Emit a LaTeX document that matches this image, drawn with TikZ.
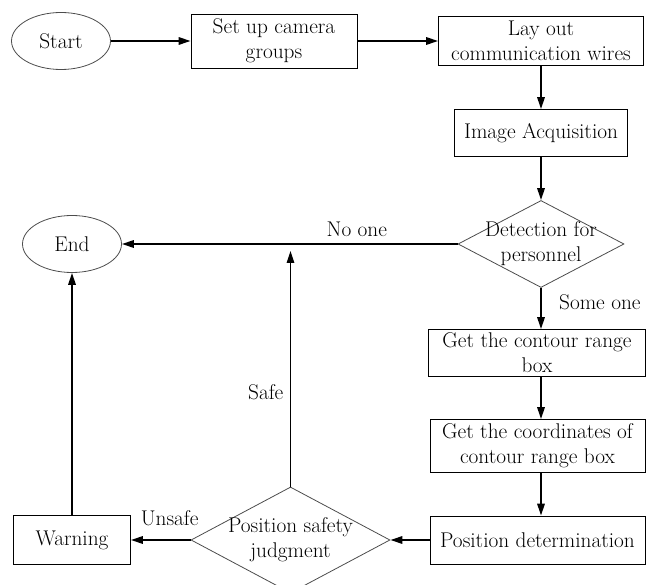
\documentclass[tikz,border=0pt]{standalone}
\usetikzlibrary{positioning, arrows.meta, shapes.geometric}

\begin{document}
\begin{tikzpicture}[
      x=1pt, y=-1pt,
      font=\fontsize{21.3}{25}\selectfont,
      box/.style={draw, rectangle, align=center, inner sep=0pt, line width=0.8pt},
      term/.style={draw=black!70, ellipse, inner sep=0pt, line width=0.8pt, minimum width=99pt, minimum height=57pt},
      decision/.style={draw=black!70, diamond, inner sep=0pt, line width=0.8pt},
      arr/.style={-{Triangle[length=12pt, width=7.5pt]}, line width=1.6pt}
    ]
    \useasboundingbox (0,0) rectangle (646,585);

    \node[term] (start) at (61,41) {Start};
    \node[box, minimum width=166pt, minimum height=54pt] (setup) at (274,41) {Set up camera\\groups};
    \node[box, minimum width=205pt, minimum height=49pt] (wires) at (541,41) {Lay out\\communication wires};
    \node[box, minimum width=173pt, minimum height=47pt] (acq) at (541,133) {Image Acquisition};
    \node[decision, minimum width=166pt, minimum height=87pt,
          label={[align=center]center:Detection for\\personnel}] (detect) at (541,244) {};
    \node[term] (end) at (72,244) {End};
    \node[box, minimum width=217pt, minimum height=47pt] (contour) at (537,353) {Get the contour range\\box};
    \node[box, minimum width=215pt, minimum height=53pt] (coords) at (537.5,446) {Get the coordinates of\\contour range box};
    \node[box, minimum width=215pt, minimum height=48pt] (posdet) at (537.5,540) {Position determination};
    \node[decision, minimum width=199pt, minimum height=106pt,
          label={[align=center]center:Position safety\\judgment}] (safety) at (290.5,540) {};
    \node[box, minimum width=117pt, minimum height=49pt] (warning) at (72,540) {Warning};
    \coordinate (safeend) at (290.5,251);

    \draw[arr] (start) -- (setup);
    \draw[arr] (setup) -- (wires);
    \draw[arr] (wires) -- (acq);
    \draw[arr] (acq) -- (detect);
    \draw[arr] (detect) -- node[above=3pt, pos=0.3] {No one} (end);
    \draw[arr] (detect.south) -- node[right=14pt, pos=0.35] {Some one} (detect.south |- contour.north);
    \draw[arr] (detect.south |- contour.south) -- (detect.south |- coords.north);
    \draw[arr] (detect.south |- coords.south) -- (detect.south |- posdet.north);
    \draw[arr] (posdet) -- (safety);
    \draw[arr] (safety) -- node[above=10pt, pos=0.35] {Unsafe} (warning);
    \draw[arr] (safety.north) -- node[left=3pt, pos=0.4] {Safe} (safeend);
    \draw[arr] (warning) -- (end);
  \end{tikzpicture}
\end{document}
